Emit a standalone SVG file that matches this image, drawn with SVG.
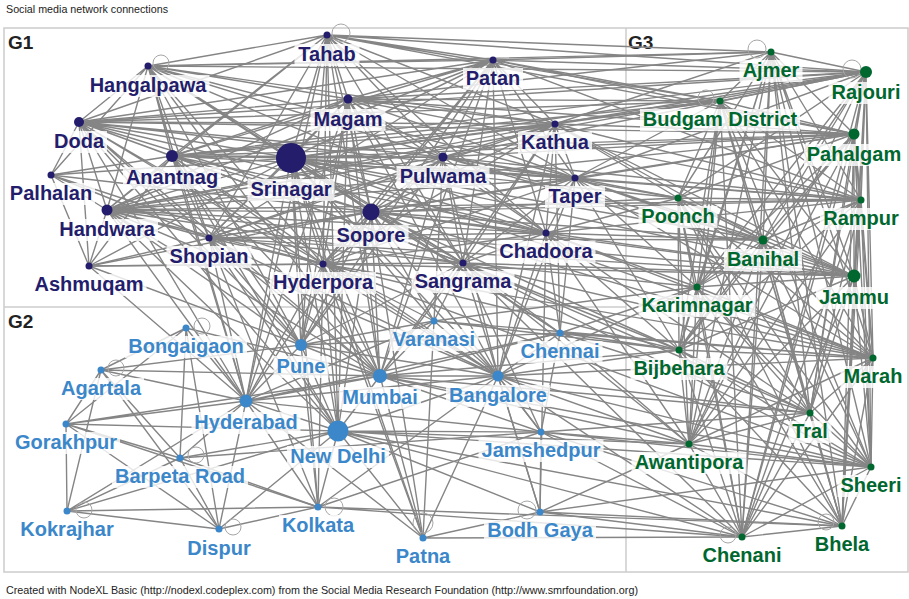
<svg xmlns="http://www.w3.org/2000/svg" width="909" height="599" viewBox="0 0 909 599">
<style>
.e{fill:none;stroke:#858585;stroke-width:1.4}
.lp{fill:none;stroke:#a6a6a6;stroke-width:1}
.fr{fill:none;stroke:#cccccc;stroke-width:1.5}
.n1{fill:#231d6b}.n2{fill:#3b87c9}.n3{fill:#00672f}
.bg{fill:#ffffff;fill-opacity:0.8}
.t{font-family:"Liberation Sans",Arial,sans-serif;font-weight:bold;font-size:20px;text-anchor:middle}
.t1{fill:#231d6b}.t2{fill:#3b87c9}.t3{fill:#00672f}
.g{font-family:"Liberation Sans",Arial,sans-serif;font-weight:bold;font-size:19px;fill:#222}
.s{font-family:"Liberation Sans",Arial,sans-serif;font-size:11px;fill:#222}
</style>
<rect width="909" height="599" fill="#fff"/>
<text class="s" x="6" y="13" textLength="162" lengthAdjust="spacingAndGlyphs">Social media network connections</text>
<g id="frame">
<rect class="fr" x="4" y="28" width="904" height="544"/>
<line class="fr" x1="626" y1="28" x2="626" y2="572"/>
<line class="fr" x1="4" y1="307" x2="626" y2="307"/>
</g>
<text class="g" x="8" y="49">G1</text>
<text class="g" x="8" y="328">G2</text>
<text class="g" x="628" y="49">G3</text>
<g id="connectors">
<path class="e" d="M327 35L148 66M327 35L493 60M327 35L348 99M327 35L555 124M327 35L79 122M327 35L443 157M327 35L172 156M327 35L291 158M327 35L575 178M327 35L107 210M327 35L371 212M327 35L546 233M327 35L209 238M327 35L463 263M327 35L323 264M327 35L771 52M327 35L866 72M327 35L720 101M327 35L854 134M327 35L301 345M327 35L380 376M327 35L246 401M327 35L338 431"/>
<path class="e" d="M148 66L493 60M148 66L348 99M148 66L555 124M148 66L79 122M148 66L443 157M148 66L172 156M148 66L291 158M148 66L575 178M148 66L107 210M148 66L371 212M148 66L546 233M148 66L209 238M148 66L463 263M148 66L323 264M148 66L51 175M148 66L771 52M148 66L866 72M148 66L301 345M148 66L246 401M148 66L380 376"/>
<path class="e" d="M493 60L348 99M493 60L555 124M493 60L79 122M493 60L443 157M493 60L172 156M493 60L291 158M493 60L575 178M493 60L107 210M493 60L371 212M493 60L546 233M493 60L209 238M493 60L463 263M493 60L323 264M493 60L771 52M493 60L866 72M493 60L720 101M493 60L854 134M493 60L861 200M493 60L498 376M493 60L380 376M493 60L301 345"/>
<path class="e" d="M348 99L555 124M348 99L79 122M348 99L443 157M348 99L172 156M348 99L291 158M348 99L575 178M348 99L107 210M348 99L371 212M348 99L546 233M348 99L209 238M348 99L463 263M348 99L323 264M348 99L866 72M348 99L854 134M348 99L720 101M348 99L771 52M348 99L861 200M348 99L301 345M348 99L246 401M348 99L380 376M348 99L498 376M348 99L338 431"/>
<path class="e" d="M555 124L79 122M555 124L443 157M555 124L172 156M555 124L291 158M555 124L575 178M555 124L107 210M555 124L371 212M555 124L546 233M555 124L209 238M555 124L463 263M555 124L323 264M555 124L866 72M555 124L854 134M555 124L720 101M555 124L678 198M555 124L861 200M555 124L763 240M555 124L854 276M555 124L771 52M555 124L498 376M555 124L380 376M555 124L560 333"/>
<path class="e" d="M79 122L443 157M79 122L172 156M79 122L291 158M79 122L575 178M79 122L107 210M79 122L371 212M79 122L546 233M79 122L209 238M79 122L463 263M79 122L323 264M79 122L51 175M79 122L89 266M79 122L866 72M79 122L854 134M79 122L720 101M79 122L301 345M79 122L246 401M79 122L380 376M79 122L498 376M79 122L338 431"/>
<path class="e" d="M443 157L172 156M443 157L291 158M443 157L575 178M443 157L107 210M443 157L371 212M443 157L546 233M443 157L209 238M443 157L463 263M443 157L323 264M443 157L854 134M443 157L861 200M443 157L678 198M443 157L763 240M443 157L854 276M443 157L866 72M443 157L301 345M443 157L380 376M443 157L498 376M443 157L434 321"/>
<path class="e" d="M172 156L291 158M172 156L575 178M172 156L107 210M172 156L371 212M172 156L546 233M172 156L209 238M172 156L463 263M172 156L323 264M172 156L51 175M172 156L89 266M172 156L854 134M172 156L720 101M172 156L866 72M172 156L301 345M172 156L246 401M172 156L380 376M172 156L498 376M172 156L338 431"/>
<path class="e" d="M291 158L575 178M291 158L107 210M291 158L371 212M291 158L546 233M291 158L209 238M291 158L463 263M291 158L323 264M291 158L51 175M291 158L89 266M291 158L854 134M291 158L861 200M291 158L854 276M291 158L866 72M291 158L720 101M291 158L678 198M291 158L763 240M291 158L873 358M291 158L301 345M291 158L246 401M291 158L380 376M291 158L498 376M291 158L434 321M291 158L560 333M291 158L338 431M291 158L423 538M291 158L318 507"/>
<path class="e" d="M575 178L107 210M575 178L371 212M575 178L546 233M575 178L209 238M575 178L463 263M575 178L323 264M575 178L678 198M575 178L861 200M575 178L854 134M575 178L763 240M575 178L854 276M575 178L866 72M575 178L697 287M575 178L679 350M575 178L873 358M575 178L720 101M575 178L498 376M575 178L560 333"/>
<path class="e" d="M107 210L371 212M107 210L546 233M107 210L209 238M107 210L463 263M107 210L323 264M107 210L51 175M107 210L89 266M107 210L866 72M107 210L854 134M107 210L861 200M107 210L854 276M107 210L301 345M107 210L246 401M107 210L380 376M107 210L498 376M107 210L338 431"/>
<path class="e" d="M371 212L546 233M371 212L209 238M371 212L463 263M371 212L323 264M371 212L51 175M371 212L89 266M371 212L861 200M371 212L854 276M371 212L763 240M371 212L678 198M371 212L873 358M371 212L679 350M371 212L854 134M371 212L301 345M371 212L246 401M371 212L380 376M371 212L498 376M371 212L434 321M371 212L560 333M371 212L338 431M371 212L423 538M371 212L541 432"/>
<path class="e" d="M546 233L209 238M546 233L463 263M546 233L323 264M546 233L678 198M546 233L763 240M546 233L854 276M546 233L697 287M546 233L679 350M546 233L873 358M546 233L810 413M546 233L689 444M546 233L861 200M546 233L498 376M546 233L560 333M546 233L540 512"/>
<path class="e" d="M209 238L463 263M209 238L323 264M209 238L51 175M209 238L89 266M209 238L854 276M209 238L763 240M209 238L301 345M209 238L246 401M209 238L380 376M209 238L498 376M209 238L338 431M209 238L318 507"/>
<path class="e" d="M463 263L323 264M463 263L89 266M463 263L679 350M463 263L697 287M463 263L854 276M463 263L873 358M463 263L689 444M463 263L810 413M463 263L871 467M463 263L742 537M463 263L301 345M463 263L380 376M463 263L498 376M463 263L434 321M463 263L560 333M463 263L541 432M463 263L540 512"/>
<path class="e" d="M323 264L51 175M323 264L89 266M323 264L679 350M323 264L854 276M323 264L873 358M323 264L871 467M323 264L301 345M323 264L246 401M323 264L380 376M323 264L498 376M323 264L434 321M323 264L338 431M323 264L423 538M323 264L318 507"/>
<path class="e" d="M51 175L89 266M89 266L301 345M89 266L246 401"/>
<path class="e" d="M186 328L101 370M186 328L246 401M186 328L180 458M186 328L219 529M186 328L380 376M186 328L66 424"/>
<path class="e" d="M101 370L66 424M101 370L246 401M101 370L180 458M101 370L219 529M101 370L301 345M101 370L67 511M101 370L380 376"/>
<path class="e" d="M66 424L246 401M66 424L67 511M66 424L180 458M66 424L219 529M66 424L380 376M66 424L338 431M66 424L318 507"/>
<path class="e" d="M246 401L301 345M246 401L380 376M246 401L338 431M246 401L498 376M246 401L434 321M246 401L560 333M246 401L180 458M246 401L67 511M246 401L219 529M246 401L318 507M246 401L423 538M246 401L541 432"/>
<path class="e" d="M301 345L380 376M301 345L338 431M301 345L498 376M301 345L434 321M301 345L560 333M301 345L318 507"/>
<path class="e" d="M380 376L434 321M380 376L498 376M380 376L338 431M380 376L560 333M380 376L541 432M380 376L423 538M380 376L679 350M380 376L689 444M380 376L871 467M380 376L810 413"/>
<path class="e" d="M338 431L498 376M338 431L541 432M338 431L318 507M338 431L423 538M338 431L540 512M338 431L219 529M338 431L67 511M338 431L180 458M338 431L689 444M338 431L871 467M338 431L742 537M338 431L842 526"/>
<path class="e" d="M180 458L67 511M180 458L219 529M180 458L318 507M180 458L541 432M67 511L219 529M67 511L318 507M219 529L318 507"/>
<path class="e" d="M318 507L498 376M318 507L541 432M318 507L742 537M318 507L842 526"/>
<path class="e" d="M423 538L498 376M423 538L540 512M423 538L434 321M423 538L742 537"/>
<path class="e" d="M540 512L541 432M540 512L498 376M540 512L742 537M540 512L842 526M540 512L871 467M540 512L689 444"/>
<path class="e" d="M498 376L434 321M498 376L560 333M498 376L541 432M498 376L679 350M498 376L689 444M498 376L810 413M498 376L873 358M498 376L871 467M498 376L742 537M498 376L697 287"/>
<path class="e" d="M541 432L560 333M541 432L689 444M541 432L871 467M541 432L842 526M541 432L742 537M541 432L810 413"/>
<path class="e" d="M560 333L679 350M560 333L697 287M560 333L689 444M560 333L873 358M560 333L810 413M434 321L697 287M434 321L679 350M434 321L873 358"/>
<path class="e" d="M771 52L866 72M771 52L720 101M771 52L854 134M771 52L678 198M771 52L861 200M771 52L763 240M771 52L854 276M771 52L697 287M771 52L679 350M771 52L873 358M771 52L810 413M771 52L689 444M771 52L871 467M771 52L842 526M771 52L742 537"/>
<path class="e" d="M866 72L720 101M866 72L854 134M866 72L678 198M866 72L861 200M866 72L763 240M866 72L854 276M866 72L697 287M866 72L679 350M866 72L873 358M866 72L810 413M866 72L689 444M866 72L871 467M866 72L842 526M866 72L742 537"/>
<path class="e" d="M720 101L854 134M720 101L678 198M720 101L861 200M720 101L763 240M720 101L854 276M720 101L697 287M720 101L679 350M720 101L873 358M720 101L810 413M720 101L689 444M720 101L871 467M720 101L842 526M720 101L742 537"/>
<path class="e" d="M854 134L678 198M854 134L861 200M854 134L763 240M854 134L854 276M854 134L697 287M854 134L679 350M854 134L873 358M854 134L810 413M854 134L689 444M854 134L871 467M854 134L842 526M854 134L742 537"/>
<path class="e" d="M678 198L861 200M678 198L763 240M678 198L854 276M678 198L697 287M678 198L679 350M678 198L873 358M678 198L810 413M678 198L689 444M678 198L871 467M678 198L842 526M678 198L742 537"/>
<path class="e" d="M861 200L763 240M861 200L854 276M861 200L697 287M861 200L679 350M861 200L873 358M861 200L810 413M861 200L689 444M861 200L871 467M861 200L842 526M861 200L742 537"/>
<path class="e" d="M763 240L854 276M763 240L697 287M763 240L679 350M763 240L873 358M763 240L810 413M763 240L689 444M763 240L871 467M763 240L842 526M763 240L742 537"/>
<path class="e" d="M854 276L697 287M854 276L679 350M854 276L873 358M854 276L810 413M854 276L689 444M854 276L871 467M854 276L842 526M854 276L742 537"/>
<path class="e" d="M697 287L679 350M697 287L873 358M697 287L810 413M697 287L689 444M697 287L871 467M697 287L842 526M697 287L742 537"/>
<path class="e" d="M679 350L873 358M679 350L810 413M679 350L689 444M679 350L871 467M679 350L842 526M679 350L742 537"/>
<path class="e" d="M873 358L810 413M873 358L689 444M873 358L871 467M873 358L842 526M873 358L742 537M810 413L689 444M810 413L871 467M810 413L842 526M810 413L742 537"/>
<path class="e" d="M689 444L871 467M689 444L842 526M689 444L742 537M871 467L842 526M871 467L742 537M842 526L742 537"/>
<circle class="lp" cx="341" cy="33" r="9"/>
<circle class="lp" cx="161" cy="63" r="8"/>
<circle class="lp" cx="757" cy="49" r="9"/>
<circle class="lp" cx="852" cy="69" r="9"/>
<circle class="lp" cx="706" cy="98" r="8"/>
<circle class="lp" cx="202" cy="326" r="8"/>
<circle class="lp" cx="116" cy="368" r="8"/>
<circle class="lp" cx="196" cy="455" r="8"/>
<circle class="lp" cx="84" cy="510" r="8"/>
<circle class="lp" cx="233" cy="527" r="8"/>
<circle class="lp" cx="334" cy="507" r="9"/>
<circle class="lp" cx="423" cy="523" r="10"/>
<circle class="lp" cx="527" cy="510" r="9"/>
<circle class="lp" cx="728" cy="535" r="8"/>
<circle class="lp" cx="826" cy="522" r="8"/>
</g>
<g id="n-tahab"><circle class="n1" cx="327" cy="35" r="3.5"/><rect class="bg" x="294.5" y="44" width="65" height="22"/><text class="t t1" x="327" y="61">Tahab</text></g>
<g id="n-hangalpawa"><circle class="n1" cx="148" cy="66" r="3.5"/><rect class="bg" x="86.5" y="75" width="123" height="22"/><text class="t t1" x="148" y="92">Hangalpawa</text></g>
<g id="n-patan"><circle class="n1" cx="493" cy="60" r="3.5"/><rect class="bg" x="463" y="68" width="60" height="22"/><text class="t t1" x="493" y="85">Patan</text></g>
<g id="n-magam"><circle class="n1" cx="348" cy="99" r="4.5"/><rect class="bg" x="310.5" y="109" width="75" height="22"/><text class="t t1" x="348" y="126">Magam</text></g>
<g id="n-kathua"><circle class="n1" cx="555" cy="124" r="3.5"/><rect class="bg" x="518" y="132" width="74" height="22"/><text class="t t1" x="555" y="149">Kathua</text></g>
<g id="n-doda"><circle class="n1" cx="79" cy="122" r="5"/><rect class="bg" x="51" y="131" width="56" height="22"/><text class="t t1" x="79" y="148">Doda</text></g>
<g id="n-pulwama"><circle class="n1" cx="443" cy="157" r="4.5"/><rect class="bg" x="396.5" y="166" width="93" height="22"/><text class="t t1" x="443" y="183">Pulwama</text></g>
<g id="n-anantnag"><circle class="n1" cx="172" cy="156" r="6"/><rect class="bg" x="123" y="167" width="98" height="22"/><text class="t t1" x="172" y="184">Anantnag</text></g>
<g id="n-srinagar"><circle class="n1" cx="291" cy="158" r="15"/><rect class="bg" x="247.5" y="179" width="87" height="22"/><text class="t t1" x="291" y="196">Srinagar</text></g>
<g id="n-palhalan"><circle class="n1" cx="51" cy="175" r="3.5"/><rect class="bg" x="7" y="183" width="88" height="22"/><text class="t t1" x="51" y="200">Palhalan</text></g>
<g id="n-taper"><circle class="n1" cx="575" cy="178" r="3.5"/><rect class="bg" x="545" y="186" width="60" height="22"/><text class="t t1" x="575" y="203">Taper</text></g>
<g id="n-handwara"><circle class="n1" cx="107" cy="210" r="5.5"/><rect class="bg" x="56" y="219" width="102" height="22"/><text class="t t1" x="107" y="236">Handwara</text></g>
<g id="n-sopore"><circle class="n1" cx="371" cy="212" r="8.5"/><rect class="bg" x="333.5" y="225" width="75" height="22"/><text class="t t1" x="371" y="242">Sopore</text></g>
<g id="n-chadoora"><circle class="n1" cx="546" cy="233" r="3.5"/><rect class="bg" x="496.5" y="241" width="99" height="22"/><text class="t t1" x="546" y="258">Chadoora</text></g>
<g id="n-shopian"><circle class="n1" cx="209" cy="238" r="3.5"/><rect class="bg" x="166.5" y="246" width="85" height="22"/><text class="t t1" x="209" y="263">Shopian</text></g>
<g id="n-sangrama"><circle class="n1" cx="463" cy="263" r="3.5"/><rect class="bg" x="411.5" y="271" width="103" height="22"/><text class="t t1" x="463" y="288">Sangrama</text></g>
<g id="n-hyderpora"><circle class="n1" cx="323" cy="264" r="3.5"/><rect class="bg" x="270" y="272" width="106" height="22"/><text class="t t1" x="323" y="289">Hyderpora</text></g>
<g id="n-ashmuqam"><circle class="n1" cx="89" cy="266" r="3.5"/><rect class="bg" x="31.5" y="274" width="115" height="22"/><text class="t t1" x="89" y="291">Ashmuqam</text></g>
<g id="n-bongaigaon"><circle class="n2" cx="186" cy="328" r="3.5"/><rect class="bg" x="125" y="336" width="122" height="22"/><text class="t t2" x="186" y="353">Bongaigaon</text></g>
<g id="n-agartala"><circle class="n2" cx="101" cy="370" r="3.5"/><rect class="bg" x="58" y="378" width="86" height="22"/><text class="t t2" x="101" y="395">Agartala</text></g>
<g id="n-pune"><circle class="n2" cx="301" cy="345" r="6"/><rect class="bg" x="273.5" y="356" width="55" height="22"/><text class="t t2" x="301" y="373">Pune</text></g>
<g id="n-varanasi"><circle class="n2" cx="434" cy="321" r="3.5"/><rect class="bg" x="389.5" y="329" width="89" height="22"/><text class="t t2" x="434" y="346">Varanasi</text></g>
<g id="n-chennai"><circle class="n2" cx="560" cy="333" r="3.5"/><rect class="bg" x="517.5" y="341" width="85" height="22"/><text class="t t2" x="560" y="358">Chennai</text></g>
<g id="n-mumbai"><circle class="n2" cx="380" cy="376" r="7"/><rect class="bg" x="339" y="387" width="82" height="22"/><text class="t t2" x="380" y="404">Mumbai</text></g>
<g id="n-bangalore"><circle class="n2" cx="498" cy="376" r="5.5"/><rect class="bg" x="446" y="385" width="104" height="22"/><text class="t t2" x="498" y="402">Bangalore</text></g>
<g id="n-hyderabad"><circle class="n2" cx="246" cy="401" r="6.5"/><rect class="bg" x="191.5" y="412" width="109" height="22"/><text class="t t2" x="246" y="429">Hyderabad</text></g>
<g id="n-gorakhpur"><circle class="n2" cx="66" cy="424" r="3.5"/><rect class="bg" x="12" y="432" width="108" height="22"/><text class="t t2" x="66" y="449">Gorakhpur</text></g>
<g id="n-newdelhi"><circle class="n2" cx="338" cy="431" r="10.5"/><rect class="bg" x="287" y="446" width="102" height="22"/><text class="t t2" x="338" y="463">New Delhi</text></g>
<g id="n-jamshedpur"><circle class="n2" cx="541" cy="432" r="3.5"/><rect class="bg" x="478.5" y="440" width="125" height="22"/><text class="t t2" x="541" y="457">Jamshedpur</text></g>
<g id="n-barpetaroad"><circle class="n2" cx="180" cy="458" r="3.5"/><rect class="bg" x="112" y="466" width="136" height="22"/><text class="t t2" x="180" y="483">Barpeta Road</text></g>
<g id="n-kokrajhar"><circle class="n2" cx="67" cy="511" r="3.5"/><rect class="bg" x="17.5" y="519" width="99" height="22"/><text class="t t2" x="67" y="536">Kokrajhar</text></g>
<g id="n-kolkata"><circle class="n2" cx="318" cy="507" r="3.5"/><rect class="bg" x="279" y="515" width="78" height="22"/><text class="t t2" x="318" y="532">Kolkata</text></g>
<g id="n-dispur"><circle class="n2" cx="219" cy="529" r="3.5"/><rect class="bg" x="184.5" y="538" width="69" height="22"/><text class="t t2" x="219" y="555">Dispur</text></g>
<g id="n-patna"><circle class="n2" cx="423" cy="538" r="3.5"/><rect class="bg" x="393" y="546" width="60" height="22"/><text class="t t2" x="423" y="563">Patna</text></g>
<g id="n-bodhgaya"><circle class="n2" cx="540" cy="512" r="3.5"/><rect class="bg" x="484" y="520" width="112" height="22"/><text class="t t2" x="540" y="537">Bodh Gaya</text></g>
<g id="n-ajmer"><circle class="n3" cx="771" cy="52" r="3.5"/><rect class="bg" x="739.5" y="60" width="63" height="22"/><text class="t t3" x="771" y="77">Ajmer</text></g>
<g id="n-rajouri"><circle class="n3" cx="866" cy="72" r="6"/><rect class="bg" x="828.5" y="82" width="75" height="22"/><text class="t t3" x="866" y="99">Rajouri</text></g>
<g id="n-budgam"><circle class="n3" cx="720" cy="101" r="3.5"/><rect class="bg" x="640" y="109" width="160" height="22"/><text class="t t3" x="720" y="126">Budgam District</text></g>
<g id="n-pahalgam"><circle class="n3" cx="854" cy="134" r="5.5"/><rect class="bg" x="804" y="144" width="100" height="22"/><text class="t t3" x="854" y="161">Pahalgam</text></g>
<g id="n-poonch"><circle class="n3" cx="678" cy="198" r="3.5"/><rect class="bg" x="638.5" y="206" width="79" height="22"/><text class="t t3" x="678" y="223">Poonch</text></g>
<g id="n-rampur"><circle class="n3" cx="861" cy="200" r="3.5"/><rect class="bg" x="820" y="208" width="82" height="22"/><text class="t t3" x="861" y="225">Rampur</text></g>
<g id="n-banihal"><circle class="n3" cx="763" cy="240" r="4.5"/><rect class="bg" x="724" y="249" width="78" height="22"/><text class="t t3" x="763" y="266">Banihal</text></g>
<g id="n-jammu"><circle class="n3" cx="854" cy="276" r="6.5"/><rect class="bg" x="816" y="287" width="76" height="22"/><text class="t t3" x="854" y="304">Jammu</text></g>
<g id="n-karimnagar"><circle class="n3" cx="697" cy="287" r="3.5"/><rect class="bg" x="638.5" y="295" width="117" height="22"/><text class="t t3" x="697" y="312">Karimnagar</text></g>
<g id="n-bijbehara"><circle class="n3" cx="679" cy="350" r="3.5"/><rect class="bg" x="630.5" y="358" width="97" height="22"/><text class="t t3" x="679" y="375">Bijbehara</text></g>
<g id="n-marah"><circle class="n3" cx="873" cy="358" r="3.5"/><rect class="bg" x="840.5" y="366" width="65" height="22"/><text class="t t3" x="873" y="383">Marah</text></g>
<g id="n-tral"><circle class="n3" cx="810" cy="413" r="3.5"/><rect class="bg" x="788.5" y="421" width="43" height="22"/><text class="t t3" x="810" y="438">Tral</text></g>
<g id="n-awantipora"><circle class="n3" cx="689" cy="444" r="3.5"/><rect class="bg" x="631.5" y="452" width="115" height="22"/><text class="t t3" x="689" y="469">Awantipora</text></g>
<g id="n-sheeri"><circle class="n3" cx="871" cy="467" r="3.5"/><rect class="bg" x="837.5" y="475" width="67" height="22"/><text class="t t3" x="871" y="492">Sheeri</text></g>
<g id="n-bhela"><circle class="n3" cx="842" cy="526" r="3.5"/><rect class="bg" x="812" y="534" width="60" height="22"/><text class="t t3" x="842" y="551">Bhela</text></g>
<g id="n-chenani"><circle class="n3" cx="742" cy="537" r="3.5"/><rect class="bg" x="699.5" y="545" width="85" height="22"/><text class="t t3" x="742" y="562">Chenani</text></g>
<text class="s" x="6" y="594" textLength="632" lengthAdjust="spacingAndGlyphs">Created with NodeXL Basic (http://nodexl.codeplex.com) from the Social Media Research Foundation (http://www.smrfoundation.org)</text>
</svg>
